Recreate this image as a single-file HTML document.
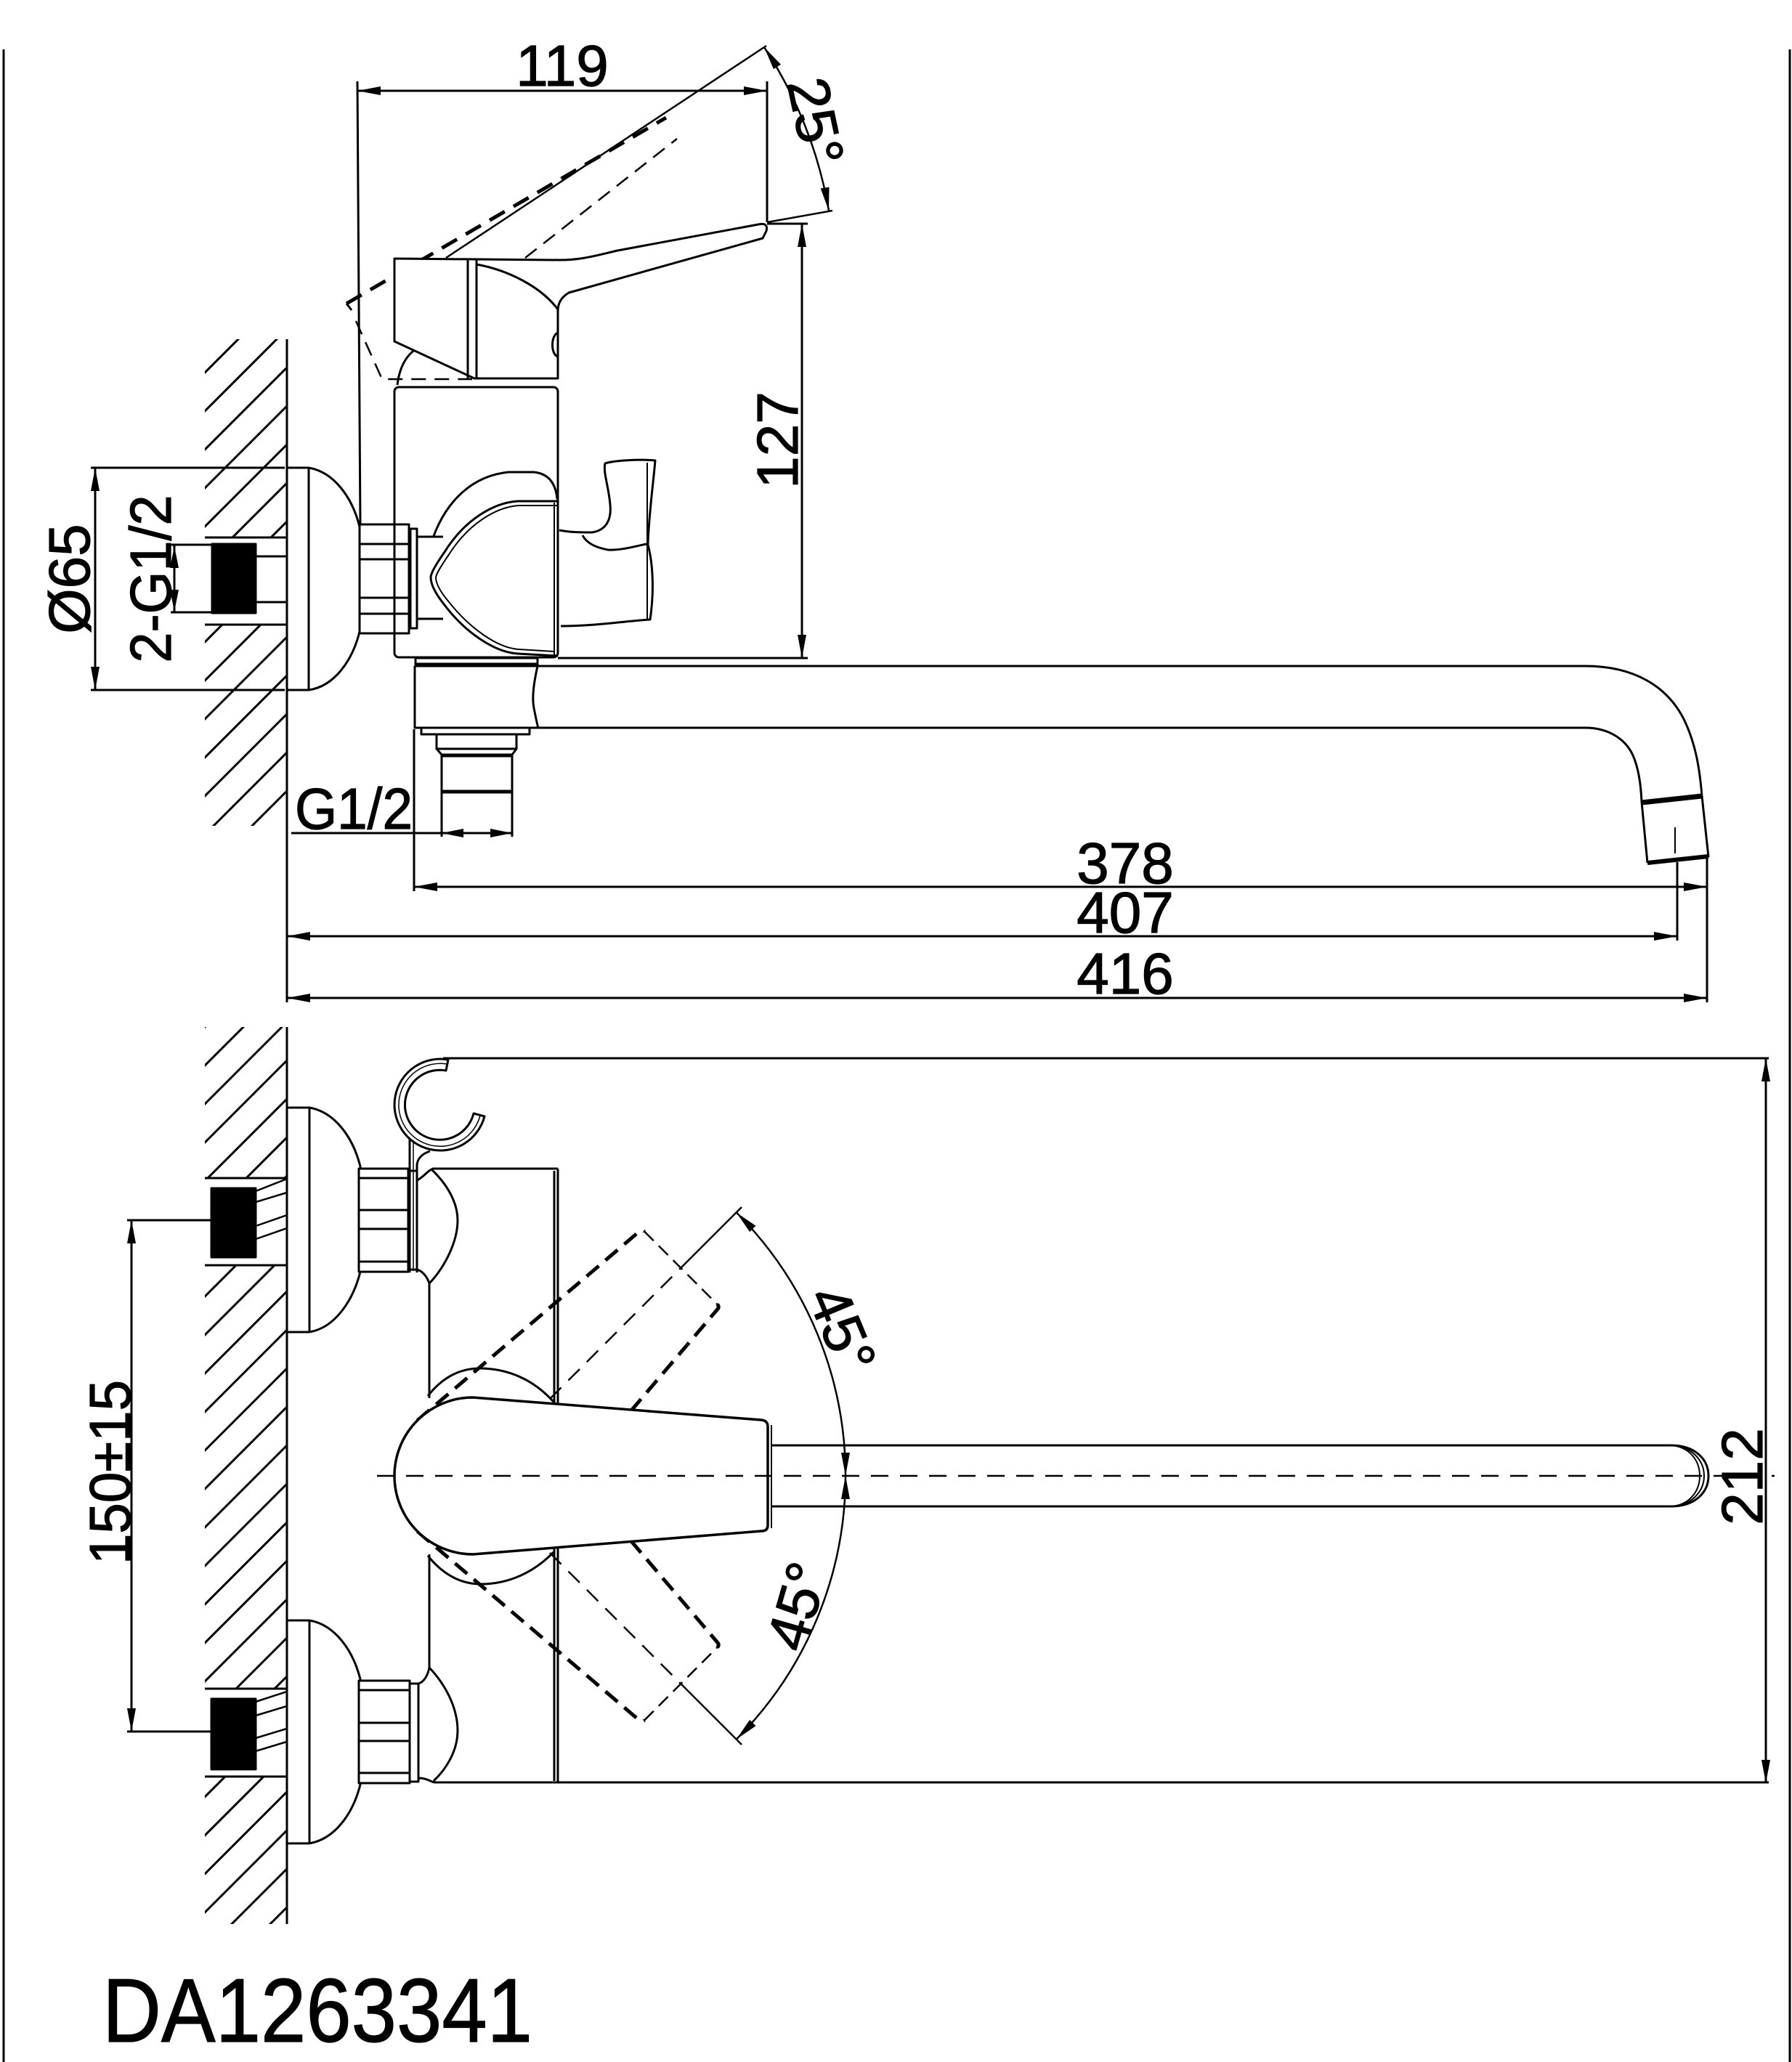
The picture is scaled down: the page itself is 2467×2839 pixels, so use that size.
<!DOCTYPE html>
<html><head><meta charset="utf-8"><style>
html,body{margin:0;padding:0;background:#fff;}
svg{display:block;}
text{font-family:"Liberation Sans",Arial,sans-serif;fill:#000;stroke:#000;stroke-width:1.2px;}
</style></head><body>
<svg width="2467" height="2839" viewBox="0 0 2467 2839" xmlns="http://www.w3.org/2000/svg">
<defs>
<pattern id="h" patternUnits="userSpaceOnUse" width="53" height="53">
<path d="M0,53 L53,0 M-5,5 L5,-5 M48,58 L58,48" stroke="#000" stroke-width="3" fill="none"/>
</pattern>
</defs>
<rect width="2467" height="2839" fill="#fff"/>

<!-- borders -->
<g stroke="#000" stroke-width="3" fill="none">
<line x1="5" y1="68" x2="5" y2="2839"/>
<line x1="2464" y1="68" x2="2464" y2="2839"/>
</g>

<!-- hatching -->
<g fill="url(#h)" stroke="none">
<rect x="282" y="467" width="113" height="273"/>
<rect x="282" y="860" width="113" height="277"/>
<rect x="282" y="1414" width="113" height="208"/>
<rect x="282" y="1742" width="113" height="583"/>
<rect x="282" y="2446" width="113" height="203"/>
</g>

<!-- ================= TOP VIEW ================= -->
<g fill="none" stroke="#000" stroke-width="3" stroke-linejoin="round">
<path d="M395,467 V1380"/>
<path d="M395,644 H425 M395,950 H425 M425,644 V950"/>
<path d="M425,644 C460,650 485,685 495,725 C500,760 500,830 495,870 C485,910 460,945 425,950"/>
<path d="M282,740 H395 M282,860 H395 M352,766 H395 M352,829 H395"/>
<rect x="292" y="749" width="60" height="95" fill="#000"/>
<path d="M235,750 H292 M235,843 H292 M240,750 V843"/>
<path d="M125,644 H392 M125,950 H392 M131,644 V950"/>

<path d="M477,418 L917,162" stroke-width="5" stroke-dasharray="24 14"/>
<path d="M477,418 L484,427"/>
<path d="M490,442 L526,522 L650,522" stroke-width="2.5" stroke-dasharray="20 12"/>
<path d="M723,355 L932,191" stroke-width="2.5" stroke-dasharray="20 12"/>

<path d="M574,739 H610 M574,852 H610"/>
<rect x="495" y="722" width="68" height="150" fill="#fff"/>
<path d="M495,749 H563 M495,770 H563 M495,823 H563 M495,845 H563"/>
<rect x="565" y="728" width="9" height="137" fill="#fff"/>

<rect x="543" y="533" width="225" height="372" rx="6" fill="none"/>
<path d="M597,738 C615,690 650,655 700,650 L735,650 C755,652 765,665 767,687"/>
<path d="M768,690 L713,690 C680,692 640,715 612,760 C598,780 593,790 593,795 C593,805 600,818 612,833 C640,870 680,898 713,900 L768,903"/>
<path d="M768,696 L714,696 C684,698 646,720 619,762 C606,781 600,791 600,795 C600,804 607,816 619,830 C646,864 684,892 714,894 L763,897" stroke-width="2"/>
<path d="M763,692 V903" stroke-width="2"/>
<path d="M770,730 C785,733 800,733 815,733 C835,730 842,715 840,695 C838,670 830,650 833,638 C845,634 880,632 902,634 C900,660 893,710 892,750 C900,780 900,820 895,853 C860,855 820,862 772,862" fill="#fff"/>
<path d="M802,737 C806,745 815,753 837,757 C855,758 875,752 890,749"/>
<path d="M891,637 V853" stroke-width="2"/>

<path d="M547,530 C550,505 560,488 575,479"/>
<path d="M543,356 L770,358 C800,358 820,352 850,345 L1044,309 Q1058,306 1055,318 L1050,328 L783,403 C775,408 768,415 768,428 L768,521 L653,521 L543,470 Z" fill="#fff"/>
<path d="M644,358 V521 M656,358 V521"/>
<path d="M656,364 C700,372 745,395 768,426"/>
<path d="M768,458 C758,462 758,488 768,491"/>

<path d="M614,355 L1055,63" stroke-width="2.5"/>
<path d="M1056,306 L1146,290" stroke-width="2.5"/>
<path d="M1052,65 A589,589 0 0 1 1141,290" stroke-width="2.5"/>
<path d="M492,112 L496,721 M1056,112 V306 M492,125 H1056"/>
<path d="M1056,308 H1112 M768,906 H1112 M1104,308 V906"/>

<rect x="572" y="906" width="168" height="11" fill="none"/>
<path d="M572,915 H740" stroke-width="5"/>
<path d="M571,917 L2182,917 C2250,917 2295,945 2318,990 C2335,1025 2340,1060 2343,1096 L2352,1180"/>
<path d="M571,917 V1002 L2182,1002 C2215,1002 2238,1018 2248,1040 C2256,1058 2259,1080 2260,1104 L2268,1188"/>
<path d="M740,917 C735,940 732,960 735,975 C738,990 740,1000 741,1002"/>
<path d="M2260,1105 L2343,1096" stroke-width="7"/>
<path d="M2268,1188 L2352,1179" stroke-width="6"/>
<path d="M2306,1139 V1175" stroke-width="2"/>
<rect x="580" y="1002" width="149" height="9"/>
<rect x="601" y="1011" width="110" height="20"/>
<path d="M601,1031 L608,1039 M711,1031 L705,1039"/>
<path d="M608,1039 V1152 M705,1039 V1152"/>
<path d="M608,1040 H705 M608,1090 H705" stroke-width="5"/>
<path d="M401,1147 H705"/>
<path d="M570,1004 V1227 M570,1221 H2350"/>
<path d="M395,1289 H2309 M2309,1187 V1295"/>
<path d="M395,1374 H2350 M2350,1180 V1380"/>
</g>

<g fill="#000" stroke="none">
<polygon points="492,125 524,119 524,131"/>
<polygon points="1056,125 1024,119 1024,131"/>
<polygon points="1104,308 1098,340 1110,340"/>
<polygon points="1104,906 1098,874 1110,874"/>
<polygon points="131,644 125,676 137,676"/>
<polygon points="131,950 125,918 137,918"/>
<polygon points="240,752 234,782 246,782"/>
<polygon points="240,842 234,812 246,812"/>
<polygon points="608,1147 638,1141 638,1153"/>
<polygon points="705,1147 675,1141 675,1153"/>
<polygon points="570,1221 602,1215 602,1227"/>
<polygon points="2350,1221 2318,1215 2318,1227"/>
<polygon points="395,1289 427,1283 427,1295"/>
<polygon points="2309,1289 2277,1283 2277,1295"/>
<polygon points="395,1374 427,1368 427,1380"/>
<polygon points="2350,1374 2318,1368 2318,1380"/>
<polygon points="1052,65 1075,88.7 1065,95.3"/>
<polygon points="1141,290 1141.5,257.5 1129.7,259.5"/>
</g>

<text x="774" y="118" font-size="80" text-anchor="middle">119</text>
<text transform="translate(1098,606) rotate(-90)" font-size="80" text-anchor="middle">127</text>
<text transform="translate(1096,173) rotate(78)" font-size="80" text-anchor="middle">25°</text>
<text transform="translate(123,797) rotate(-90)" font-size="80" text-anchor="middle">Ø65</text>
<text transform="translate(235,797) rotate(-90)" font-size="80" text-anchor="middle" textLength="231" lengthAdjust="spacingAndGlyphs">2-G1/2</text>
<text x="406" y="1141" font-size="80" textLength="162" lengthAdjust="spacingAndGlyphs">G1/2</text>
<text x="1549" y="1216" font-size="80" text-anchor="middle">378</text>
<text x="1549" y="1284" font-size="80" text-anchor="middle">407</text>
<text x="1549" y="1368" font-size="80" text-anchor="middle">416</text>

<!-- ================= BOTTOM VIEW ================= -->
<g fill="none" stroke="#000" stroke-width="3" stroke-linejoin="round">
<path d="M395,1414 V2649"/>
<path d="M395,1525 H426 M395,1834 H426 M426,1525 V1834"/>
<path d="M426,1525 C461,1531 486,1566 496,1606 C501,1641 501,1711 496,1751 C486,1791 461,1828 426,1834"/>
<path d="M395,2231 H426 M395,2538 H426 M426,2231 V2538"/>
<path d="M426,2231 C461,2237 486,2272 496,2312 C501,2347 501,2417 496,2457 C486,2497 461,2532 426,2538"/>
<path d="M282,1622 H395 M282,1742 H395 M282,2325 H395 M282,2446 H395"/>
<rect x="291" y="1636" width="61" height="95" fill="#000"/>
<rect x="291" y="2339" width="61" height="97" fill="#000"/>
<path d="M352,1640 L395,1623 M352,1655 L395,1642 M352,1688 L395,1673 M352,1706 L395,1691" stroke-width="2.5"/>
<path d="M352,2343 L395,2329 M352,2362 L395,2349 M352,2393 L395,2380 M352,2411 L395,2398" stroke-width="2.5"/>
<path d="M175,1680 H291 M175,2384 H291 M181,1680 V2384"/>

<rect x="494" y="1609" width="68" height="142" fill="#fff"/>
<path d="M494,1622 H562 M494,1666 H562 M494,1692 H562 M494,1737 H562"/>
<rect x="562" y="1612" width="12" height="136" fill="#fff"/>
<rect x="494" y="2314" width="70" height="141" fill="#fff"/>
<path d="M494,2327 H564 M494,2372 H564 M494,2397 H564 M494,2441 H564"/>
<rect x="564" y="2318" width="12" height="135" fill="#fff"/>

<path d="M564,1566 V1752 M574,1752 V1605 C574,1595 582,1588 592,1585"/>
<path d="M569,1570 V1750" stroke-width="1.5"/>
<path d="M617,1459 A63,63 0 1 0 667,1537 L652,1533 A48,48 0 1 1 614,1474 Z" fill="#fff"/>
<path d="M615,1465 A57,57 0 1 0 661,1536" stroke-width="1.5"/>

<path d="M574,1625 C582,1622 588,1612 596,1609 L768,1609"/>
<path d="M594,1610 C615,1630 630,1655 630,1680 C630,1710 612,1745 591,1767"/>
<path d="M574,1748 C582,1750 588,1758 591,1767 V1925"/>
<path d="M591,2140 V2296 C612,2318 630,2350 630,2383 C630,2410 615,2435 597,2452"/>
<path d="M576,2318 C584,2316 589,2306 591,2296 M576,2448 C586,2448 592,2452 597,2454"/>
<path d="M763,1612 V2452 M768,1609 V2454"/>
<path d="M597,2454 H2435 M610,1457 H2435"/>
<path d="M589,1922 C610,1895 635,1884 660,1884 C700,1884 735,1900 762,1930"/>
<path d="M589,2142 C610,2168 635,2181 662,2181 C700,2181 735,2165 762,2137"/>

<path d="M574.6,1955.6 L880.1,1695.5 Q883.6,1692 887.1,1695.5" stroke-width="5" stroke-dasharray="22 12"/>
<path d="M887.1,1695.5 L987.5,1795.9" stroke-width="2.5" stroke-dasharray="18 10"/>
<path d="M987.5,1795.9 Q991,1799.4 987.5,1802.9 L727.4,2108.4" stroke-width="5" stroke-dasharray="22 12"/>
<path d="M757,1926 L945,1738" stroke-width="2.5" stroke-dasharray="22 14"/>
<path d="M945,1738 L1021,1662" stroke-width="2.5"/>
<path d="M574.6,2108.4 L880.1,2368.5 Q883.6,2372 887.1,2368.5" stroke-width="5" stroke-dasharray="22 12"/>
<path d="M887.1,2368.5 L987.5,2268.1" stroke-width="2.5" stroke-dasharray="18 10"/>
<path d="M987.5,2268.1 Q991,2264.6 987.5,2261.1 L727.4,1955.6" stroke-width="5" stroke-dasharray="22 12"/>
<path d="M757,2138 L945,2326" stroke-width="2.5" stroke-dasharray="22 14"/>
<path d="M945,2326 L1021,2402" stroke-width="2.5"/>

<path d="M1013.7,1669.3 A513,513 0 0 1 1164,2032 A513,513 0 0 1 1013.7,2394.7" stroke-width="2.5"/>

<path d="M651,1924 L1048,1955 Q1057,1956 1057,1964 L1057,2100 Q1057,2108 1048,2108 L651,2140 A108,108 0 0 1 651,1924 Z" fill="#fff" stroke-width="3.5"/>
<path d="M1062,1962 V2104" stroke-width="2"/>

<path d="M1062,1990 L2301,1990 C2332,1990 2352,2008 2352,2032 C2352,2056 2332,2074 2301,2074 L1062,2074"/>
<path d="M2301,1990 C2325,1992 2340,2010 2340,2032 C2340,2054 2325,2072 2301,2074" stroke-width="2"/>
<path d="M2301,1990 C2328,1991 2346,2010 2346,2032 C2346,2054 2328,2073 2301,2074" stroke-width="2"/>
<path d="M519,2032 H2443" stroke-width="2.5" stroke-dasharray="24 16"/>
<path d="M2431,1457 V2455"/>
</g>

<g fill="#000" stroke="none">
<polygon points="181,1680 175,1712 187,1712"/>
<polygon points="181,2384 175,2352 187,2352"/>
<polygon points="2431,1457 2425,1489 2437,1489"/>
<polygon points="2431,2455 2425,2423 2437,2423"/>
<polygon points="1013.7,1669.3 1040.5,1687.7 1032.1,1696.1"/>
<polygon points="1164,2032 1158,2000 1170,2000"/>
<polygon points="1164,2032 1158,2064 1170,2064"/>
<polygon points="1013.7,2394.7 1040.5,2376.3 1032.1,2367.9"/>
</g>

<text transform="translate(179,2027) rotate(-90)" font-size="80" text-anchor="middle" textLength="254" lengthAdjust="spacingAndGlyphs">150±15</text>
<text transform="translate(2426,2033) rotate(-90)" font-size="80" text-anchor="middle">212</text>
<text transform="translate(1134,1841) rotate(67.5)" font-size="80" text-anchor="middle">45°</text>
<text transform="translate(1124,2219) rotate(-74)" font-size="80" text-anchor="middle">45°</text>

<text x="141" y="2811" font-size="124" textLength="592" lengthAdjust="spacingAndGlyphs">DA1263341</text>
</svg>
</body></html>
